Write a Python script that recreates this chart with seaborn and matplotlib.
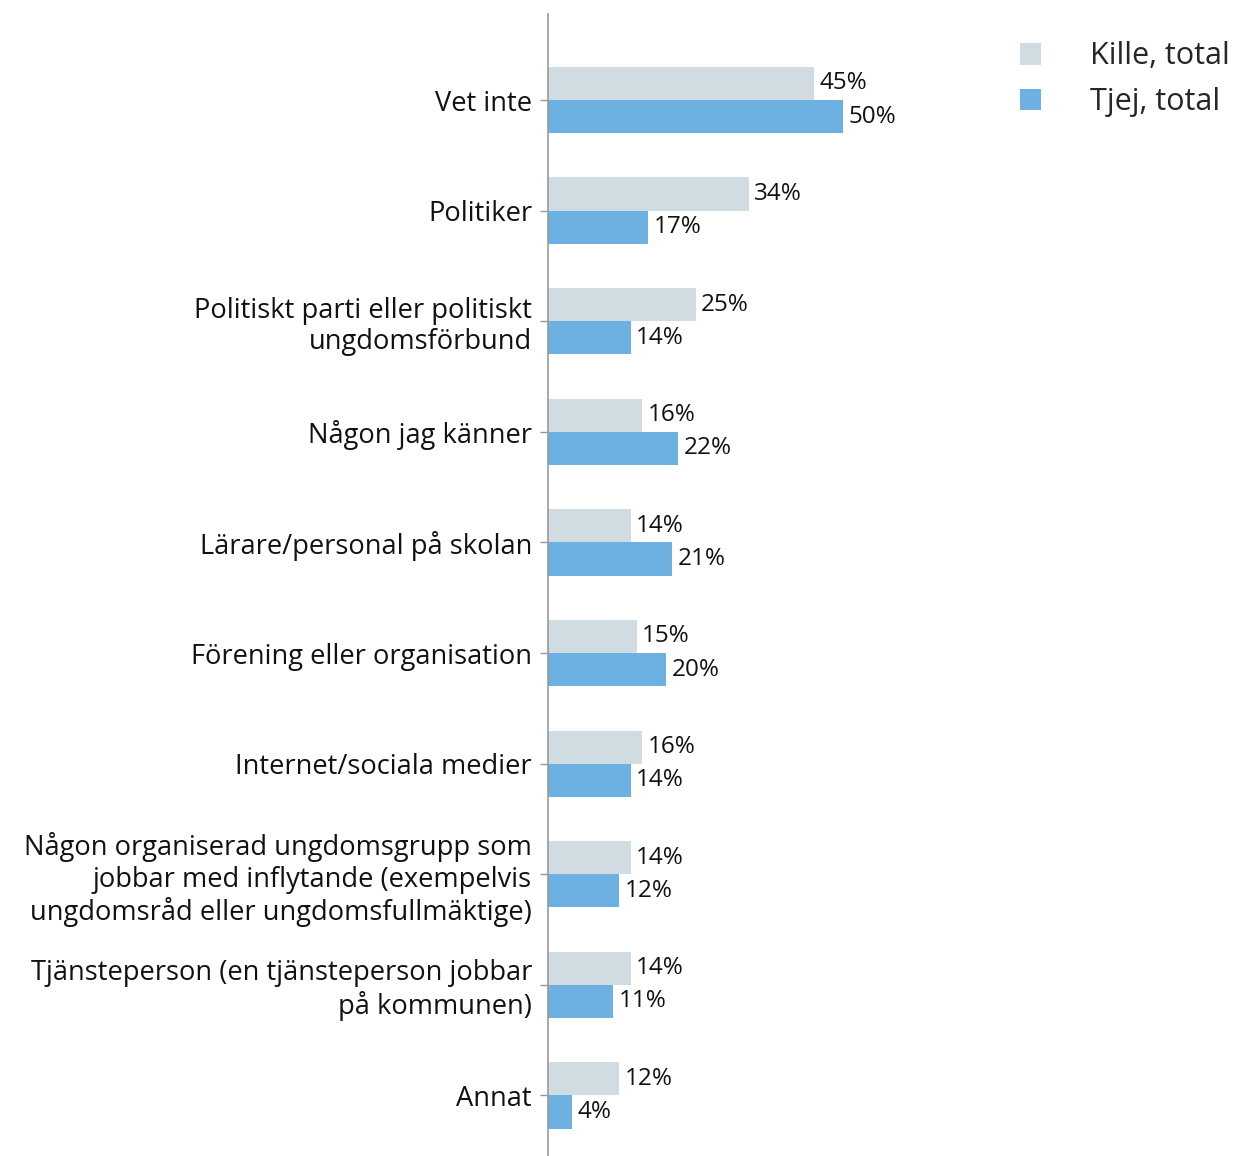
import matplotlib
matplotlib.use("Agg")
import matplotlib.pyplot as plt
import seaborn as sns
import pandas as pd

categories = [
    "Vet inte",
    "Politiker",
    "Politiskt parti eller politiskt\nungdomsförbund",
    "Någon jag känner",
    "Lärare/personal på skolan",
    "Förening eller organisation",
    "Internet/sociala medier",
    "Någon organiserad ungdomsgrupp som\njobbar med inflytande (exempelvis\nungdomsråd eller ungdomsfullmäktige)",
    "Tjänsteperson (en tjänsteperson jobbar\npå kommunen)",
    "Annat",
]
kille_total = [45, 34, 25, 16, 14, 15, 16, 14, 14, 12]
tjej_total = [50, 17, 14, 22, 21, 20, 14, 12, 11, 4]
series_names = ["Kille, total", "Tjej, total"]
colors = ["#D0DBE2", "#6DB1E2"]

df = pd.DataFrame({
    "kategori": categories * 2,
    "grupp": [series_names[0]] * len(categories) + [series_names[1]] * len(categories),
    "andel": kille_total + tjej_total,
})

sns.set_theme(style="white")
plt.rcParams["font.family"] = ["Open Sans", "DejaVu Sans"]

W, H = 1237, 1156
fig = plt.figure(figsize=(W / 100, H / 100), dpi=100)
ax = fig.add_axes([548 / W, 0.0, (W - 548) / W, 1 - 14 / H])

sns.barplot(data=df, y="kategori", x="andel", hue="grupp", order=categories,
            hue_order=series_names, palette=colors, width=0.6, orient="h",
            saturation=1, linewidth=0, ax=ax)

for cont in ax.containers:
    ax.bar_label(cont, labels=[f"{v:.0f}%" for v in cont.datavalues],
                 padding=4, fontsize=17.5, color="#111111")

ax.set_xlim(0, (W - 548) / 5.9)
ax.set_ylim(9.547, -0.778)
ax.set_xlabel("")
ax.set_ylabel("")
ax.set_xticks([])
for side in ["top", "right", "bottom"]:
    ax.spines[side].set_visible(False)
ax.spines["left"].set_color("#999999")
ax.spines["left"].set_linewidth(1.2)
ax.tick_params(axis="y", length=6, width=1, color="#999999", pad=5.5,
               labelsize=19.6, labelcolor="#111111", left=True)
for lbl in ax.get_yticklabels():
    lbl.set_linespacing(1.17)

leg = ax.legend(loc="upper left", bbox_to_anchor=(992 / W, 1 - 14 / H),
                bbox_transform=fig.transFigure, frameon=False, fontsize=22,
                handlelength=0.7, handleheight=0.7, handletextpad=1.6,
                labelspacing=0.52, title=None)

fig.savefig("out.png", dpi=100)
